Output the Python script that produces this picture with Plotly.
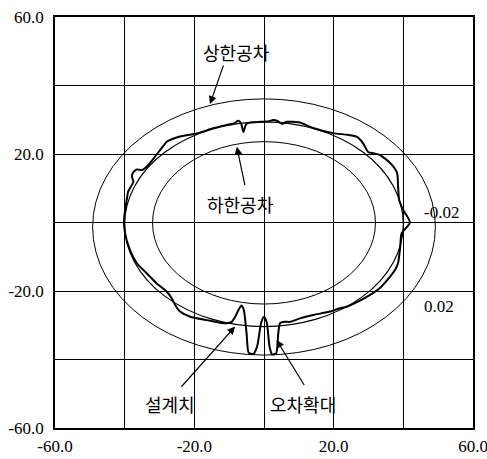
import plotly.graph_objects as go

# Tolerance band and design profile (ellipses): name, half-width, half-height, centre y
profile_names = ["상한공차", "설계치", "하한공차"]
profile_half_width = [49.2, 40.0, 32.0]
profile_half_height = [37.4, 29.9, 23.7]
profile_center_y = [-1.3, -0.5, -0.1]
profile_line_width = [1.0, 1.2, 1.0]

# Measured profile with magnified error (오차확대), traced clockwise from the left
measured_x = [
    -40.2, -39.9, -39.4, -39.0, -37.5, -37.9, -37.7, -36.5, -35.1, -33.2,
    -31.3, -29.4, -27.9, -26.5, -24.1, -19.3, -14.6, -10.7, -8.5, -7.4,
    -6.6, -5.9, -5.2, -4.5, -1.1, 1.0, 2.7, 4.0, 5.1, 6.5,
    8.3, 10.3, 14.1, 19.8, 24.0, 26.7, 28.4, 29.9, 31.5, 33.3,
    36.2, 38.2, 38.5, 38.8, 40.0, 41.9, 39.5, 39.1, 38.5, 37.6,
    36.2, 33.3, 29.5, 26.5, 23.7, 21.5, 19.0, 14.1, 10.3, 7.5,
    6.0, 4.6, 4.1, 3.5, 2.3, 1.6, 0.8, 0.0, -0.8, -2.0,
    -3.1, -4.4, -5.0, -5.8, -6.5, -7.3, -8.0, -9.3, -11.7, -16.4,
    -21.2, -24.1, -25.5, -26.5, -27.9, -30.8, -33.7, -36.5, -38.5, -39.9,
    -40.2,
]
measured_y = [
    0.5, 3.5, 6.6, 9.0, 11.9, 13.3, 14.4, 15.5, 15.3, 16.8,
    19.2, 21.7, 23.6, 24.3, 25.1, 26.0, 27.5, 28.5, 29.0, 29.7,
    29.0, 26.4, 28.6, 29.1, 29.4, 29.5, 29.9, 29.6, 28.8, 29.4,
    29.4, 29.2, 27.6, 26.1, 25.6, 25.0, 23.2, 20.6, 20.2, 19.7,
    17.4, 14.5, 10.4, 6.6, 3.6, 0.0, -3.2, -7.1, -11.8, -13.9,
    -15.8, -19.1, -21.7, -23.3, -24.6, -25.1, -26.0, -27.0, -28.0, -29.0,
    -29.0, -29.4, -32.4, -38.2, -38.5, -36.3, -29.2, -27.5, -29.2, -36.3,
    -38.4, -38.0, -32.4, -25.5, -24.2, -25.5, -27.0, -29.0, -29.4, -28.5,
    -27.5, -26.0, -24.1, -22.1, -20.2, -17.8, -14.8, -11.9, -8.0, -3.1,
    0.5,
]

# Axis ticks: grid every 20, labels on every other line
tick_values = [-60, -40, -20, 0, 20, 40, 60]
x_tick_text = ["-60.0", "", "-20.0", "", "20.0", "", "60.0"]
y_tick_text = ["-60.0", "", "-20.0", "", "20.0", "", "60.0"]

# Callout labels: text, label position, arrow tail, arrow head
label_text = ["상한공차", "하한공차", "설계치", "오차확대"]
label_x = [-7.8, -6.7, -27.0, 11.2]
label_y = [49.9, 5.4, -53.0, -53.0]
arrow_tail_x = [-11.5, -5.4, -24.1, 11.8]
arrow_tail_y = [46.3, 10.5, -48.4, -47.9]
arrow_head_x = [-15.5, -7.8, -8.3, 3.6]
arrow_head_y = [34.6, 22.1, -30.4, -34.3]

# Tolerance values written beside the band
band_text = ["-0.02", "0.02"]
band_x = [51.0, 50.2]
band_y = [2.9, -24.6]

serif = "Liberation Serif, Times New Roman, serif"
hangul = "Noto Sans CJK KR, sans-serif"

fig = go.Figure()

fig.add_trace(go.Scatter(
    x=measured_x, y=measured_y, mode="lines",
    line=dict(color="black", width=2.0, shape="spline", smoothing=0.6),
    name="오차확대", hoverinfo="skip",
))

for a, b, cy, w in zip(profile_half_width, profile_half_height,
                       profile_center_y, profile_line_width):
    fig.add_shape(type="circle", xref="x", yref="y",
                  x0=-a, x1=a, y0=cy - b, y1=cy + b,
                  line=dict(color="black", width=w))

for t, lx, ly, tx, ty, hx, hy in zip(label_text, label_x, label_y,
                                      arrow_tail_x, arrow_tail_y,
                                      arrow_head_x, arrow_head_y):
    fig.add_annotation(x=lx, y=ly, xref="x", yref="y", text=t,
                       showarrow=False,
                       font=dict(family=hangul, size=18, color="black"))
    fig.add_annotation(x=hx, y=hy, xref="x", yref="y", text="",
                       ax=tx, ay=ty, axref="x", ayref="y",
                       showarrow=True, arrowhead=2, arrowsize=1.3,
                       arrowwidth=1.2, arrowcolor="black")

for t, bx, by in zip(band_text, band_x, band_y):
    fig.add_annotation(x=bx, y=by, xref="x", yref="y", text=t,
                       showarrow=False,
                       font=dict(family=serif, size=17, color="black"))

axis_common = dict(
    range=[-60, 60], tickmode="array", tickvals=tick_values,
    showgrid=True, gridcolor="black", gridwidth=1,
    zeroline=False, showline=True, linecolor="black", linewidth=1.5,
    mirror=True, ticks="", automargin=False, ticklabeloverflow="allow",
    tickfont=dict(family=serif, size=17, color="black"),
)

fig.update_layout(
    width=487, height=459,
    margin=dict(l=55, r=14, t=17, b=31),
    paper_bgcolor="white", plot_bgcolor="white",
    showlegend=False,
    xaxis=dict(ticktext=x_tick_text, ticklabelstandoff=2, **axis_common),
    yaxis=dict(ticktext=y_tick_text, ticklabelstandoff=6, **axis_common),
)

fig.write_html("out.html")
